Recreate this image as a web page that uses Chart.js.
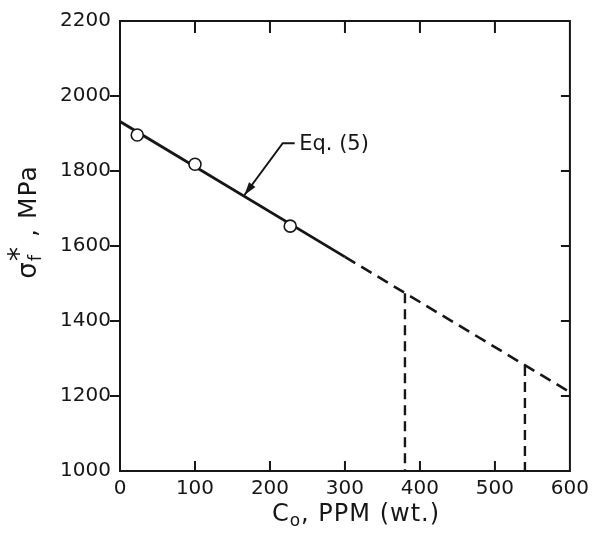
<!DOCTYPE html>
<html>
<head>
<meta charset="utf-8">
<script src="https://cdn.jsdelivr.net/npm/chart.js@4"></script>
<style>
    body { margin: 0; background: #ffffff; }
    #wrap { width: 595px; height: 534px; }
</style>
</head>
<body>
<div id="wrap"><canvas id="chart"></canvas></div>
<script>
// values
const xTickValues = [0, 100, 200, 300, 400, 500, 600];
const yTickValues = [1000, 1200, 1400, 1600, 1800, 2000, 2200];

const measuredX = [23, 100, 227];
const measuredY = [1896, 1818, 1653];

const fitX = [0, 300];
const fitY = [1932, 1571];

const extrapX = [300, 600];
const extrapY = [1571, 1210];

const limitX = [380, 540];
const limitY = [1474, 1280];

const leaderX = [166, 217, 233];
const leaderY = [1736, 1874, 1874];
const eqLabel = "Eq. (5)";
const eqLabelAt = { x: 239, y: 1874 };

const FONT = "'DejaVu Sans', sans-serif";
const INK = "#161616";

function toPoints(xs, ys) {
    return xs.map(function (x, i) { return { x: x, y: ys[i] }; });
}

function drawRuns(ctx, runs, x, y, rotate) {
    ctx.save();
    ctx.translate(x, y);
    if (rotate) ctx.rotate(-Math.PI / 2);
    ctx.letterSpacing = "1px";
    let total = 0;
    runs.forEach(function (r) {
        ctx.font = r.size + "px " + FONT;
        r.w = ctx.measureText(r.t).width;
        total += r.w + (r.dx || 0);
    });
    let cx = -total / 2;
    ctx.textBaseline = "alphabetic";
    ctx.textAlign = "left";
    runs.forEach(function (r) {
        ctx.font = r.size + "px " + FONT;
        cx += (r.dx || 0);
        ctx.fillText(r.t, cx, r.dy || 0);
        cx += r.w;
    });
    ctx.restore();
}

const framePlugin = {
    id: "framePlugin",
    afterDraw(chart) {
        const ctx = chart.ctx;
        const area = chart.chartArea;
        const xs = chart.scales.x;
        const ys = chart.scales.y;
        ctx.save();
        ctx.strokeStyle = INK;
        ctx.fillStyle = INK;
        ctx.lineWidth = 2;
        ctx.strokeRect(area.left, area.top, area.right - area.left, area.bottom - area.top);

        ctx.beginPath();
        xTickValues.slice(1, -1).forEach(function (v) {
            const px = xs.getPixelForValue(v);
            ctx.moveTo(px, area.bottom);
            ctx.lineTo(px, area.bottom - 10);
            ctx.moveTo(px, area.top);
            ctx.lineTo(px, area.top + 12);
        });
        yTickValues.slice(1, -1).forEach(function (v) {
            const py = ys.getPixelForValue(v);
            ctx.moveTo(area.left - 10, py);
            ctx.lineTo(area.left, py);
            ctx.moveTo(area.right - 9, py);
            ctx.lineTo(area.right, py);
        });
        ctx.stroke();

        // arrow head on the leader line
        const tipX = xs.getPixelForValue(leaderX[0]);
        const tipY = ys.getPixelForValue(leaderY[0]);
        const fromX = xs.getPixelForValue(leaderX[1]);
        const fromY = ys.getPixelForValue(leaderY[1]);
        const ang = Math.atan2(tipY - fromY, tipX - fromX);
        const len = 13, half = 4;
        ctx.beginPath();
        ctx.moveTo(tipX, tipY);
        ctx.lineTo(tipX - len * Math.cos(ang) + half * Math.sin(ang), tipY - len * Math.sin(ang) - half * Math.cos(ang));
        ctx.lineTo(tipX - len * Math.cos(ang) - half * Math.sin(ang), tipY - len * Math.sin(ang) + half * Math.cos(ang));
        ctx.closePath();
        ctx.fill();

        ctx.font = "21px " + FONT;
        ctx.textAlign = "left";
        ctx.textBaseline = "middle";
        ctx.fillText(eqLabel, xs.getPixelForValue(eqLabelAt.x), ys.getPixelForValue(eqLabelAt.y) + 1);

        // axis titles
        drawRuns(ctx, [
            { t: "C", size: 24 },
            { t: "o", size: 17, dy: 5, dx: 0 },
            { t: ", PPM (wt.)", size: 24 }
        ], 356, 521, false);

        drawRuns(ctx, [
            { t: "σ", size: 26 },
            { t: "f", size: 18, dy: 5, dx: 0 },
            { t: "*", size: 28, dy: -8, dx: -7 },
            { t: " , MPa", size: 25 }
        ], 36, 222, true);

        ctx.restore();
    }
};

const ctx = document.getElementById("chart").getContext("2d");

const tickFont = { family: FONT, size: 20 };

new Chart(ctx, {
    type: "scatter",
    data: {
        datasets: [
            {
                label: "measured",
                data: toPoints(measuredX, measuredY),
                showLine: false,
                pointRadius: 6,
                pointBackgroundColor: "#ffffff",
                pointBorderColor: INK,
                pointBorderWidth: 1.6,
                order: -1
            },
            {
                label: "fit",
                data: toPoints(fitX, fitY),
                showLine: true,
                borderColor: INK,
                borderWidth: 2.8,
                pointRadius: 0
            },
            {
                label: "extrapolation",
                data: toPoints(extrapX, extrapY),
                showLine: true,
                borderColor: INK,
                borderWidth: 2.6,
                borderDash: [12, 7],
                pointRadius: 0
            },
            {
                label: "limit 1",
                data: [{ x: limitX[0], y: limitY[0] }, { x: limitX[0], y: 1000 }],
                showLine: true,
                borderColor: INK,
                borderWidth: 2.4,
                borderDash: [10, 6],
                pointRadius: 0
            },
            {
                label: "limit 2",
                data: [{ x: limitX[1], y: limitY[1] }, { x: limitX[1], y: 1000 }],
                showLine: true,
                borderColor: INK,
                borderWidth: 2.4,
                borderDash: [10, 6],
                pointRadius: 0
            },
            {
                label: "leader",
                data: toPoints(leaderX, leaderY),
                showLine: true,
                borderColor: INK,
                borderWidth: 2,
                pointRadius: 0
            }
        ]
    },
    options: {
        responsive: true,
        maintainAspectRatio: false,
        animation: false,
        layout: { padding: { top: 17, right: 24, left: 0, bottom: 0 } },
        plugins: {
            legend: { display: false },
            tooltip: { enabled: false }
        },
        scales: {
            x: {
                type: "linear",
                min: 0,
                max: 600,
                afterBuildTicks: function (scale) {
                    scale.ticks = xTickValues.map(function (v) { return { value: v }; });
                },
                afterFit: function (scale) { scale.height = 63; },
                grid: { display: false, drawTicks: false },
                border: { display: false },
                ticks: {
                    color: INK,
                    padding: 6,
                    font: tickFont,
                    callback: function (value) { return String(value); }
                }
            },
            y: {
                type: "linear",
                min: 1000,
                max: 2200,
                afterBuildTicks: function (scale) {
                    scale.ticks = yTickValues.map(function (v) { return { value: v }; });
                },
                afterFit: function (scale) { scale.width = 120; },
                grid: { display: false, drawTicks: false },
                border: { display: false },
                ticks: {
                    color: INK,
                    padding: 9,
                    font: tickFont,
                    callback: function (value) { return String(value); }
                }
            }
        }
    },
    plugins: [framePlugin]
});
</script>
</body>
</html>
